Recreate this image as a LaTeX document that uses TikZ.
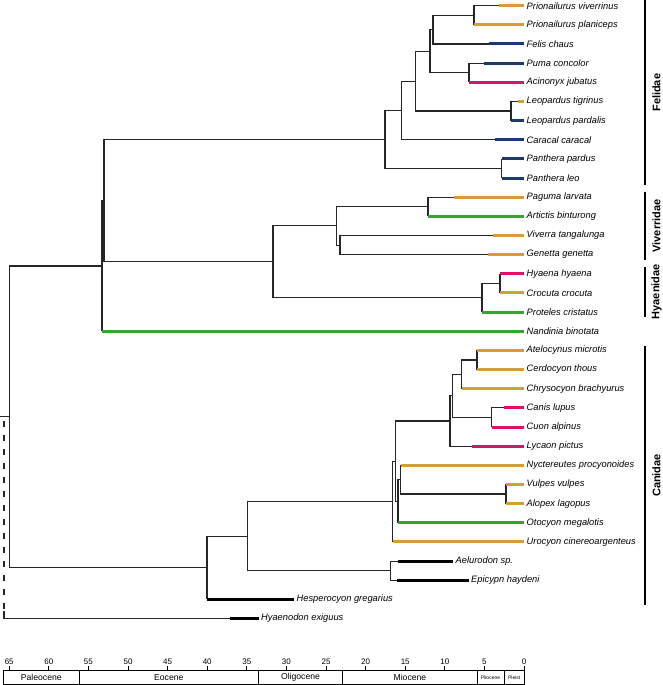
\documentclass[tikz,border=0pt]{standalone}
\usepackage{fontspec}
\setmainfont{Liberation Sans}
\definecolor{cgold}{RGB}{211,157,56}
\definecolor{cnavy}{RGB}{28,57,107}
\definecolor{cmag}{RGB}{214,20,104}
\definecolor{cgrn}{RGB}{58,160,58}
\begin{document}
\begin{tikzpicture}[x=1pt,y=-1pt,
  br/.style={line width=1.1pt, black!85},
  gd/.style={line width=3pt, cgold},
  nv/.style={line width=3pt, cnavy},
  mg/.style={line width=3pt, cmag},
  gr/.style={line width=3pt, cgrn},
  fk/.style={line width=3pt, black},
  tip/.style={anchor=west, inner xsep=2.5pt, inner ysep=0pt, font=\fontsize{9.3}{11}\selectfont\itshape},
  bar/.style={line width=1.3pt, black},
  clade/.style={rotate=90, font=\fontsize{11}{13}\selectfont\bfseries},
  num/.style={font=\fontsize{8}{9}\selectfont, inner sep=0pt},
  epo/.style={font=\fontsize{8.6}{10}\selectfont, inner sep=0pt},
  epos/.style={font=\fontsize{5}{6}\selectfont, inner sep=0pt},
  axl/.style={line width=0.8pt, black}]
\useasboundingbox (0,0) rectangle (663,685);

% internal nodes
\coordinate (nPri) at (474,15.28);
\coordinate (nPF) at (433,29.64);
\coordinate (nPA) at (469,72.73);
\coordinate (nA) at (430,51.18);
\coordinate (nLeo) at (511,111.03);
\coordinate (nB) at (415.5,81.1);
\coordinate (nC) at (401.5,110.4);
\coordinate (nPan) at (501.7,168.48);
\coordinate (nD) at (385,139.45);
\coordinate (nPag) at (428,206.78);
\coordinate (nVG) at (340,245.08);
\coordinate (nViv) at (336.5,225.93);
\coordinate (nHC) at (500,283.38);
\coordinate (nHy) at (482,297.74);
\coordinate (nVH) at (273,261.83);
\coordinate (nF1) at (104,200.64);
\coordinate (nF0) at (102,265.95);
\coordinate (nAC) at (477,359.98);
\coordinate (nSA) at (461.5,374.34);
\coordinate (nCC) at (491.7,417.43);
\coordinate (nWolf) at (452.7,395.88);
\coordinate (nCanini) at (450,421.0);
\coordinate (nVA) at (506,494.03);
\coordinate (nNy) at (400.7,479.66);
\coordinate (nVul) at (398,501.2);
\coordinate (nCV) at (395.7,461.1);
\coordinate (nCan) at (392.7,501.5);
\coordinate (nBor) at (390.7,570.63);
\coordinate (nCB) at (247.8,536.06);
\coordinate (nCf) at (207,567.7);
\coordinate (root) at (9.5,416.83);
\coordinate (rootstem) at (0,416.83);

% internal edges
\draw[br] (nPF) |- (nPri);
\draw[br] (nA) |- (nPF);
\draw[br] (nA) |- (nPA);
\draw[br] (nB) |- (nA);
\draw[br] (nB) |- (nLeo);
\draw[br] (nC) |- (nB);
\draw[br] (nD) |- (nC);
\draw[br] (nD) |- (nPan);
\draw[br] (nF1) |- (nD);
\draw[br] (nViv) |- (nPag);
\draw[br] (nViv) |- (nVG);
\draw[br] (nVH) |- (nViv);
\draw[br] (nHy) |- (nHC);
\draw[br] (nVH) |- (nHy);
\draw[br] (nF1) |- (nVH);
\draw[br] (nF0) |- (nF1);
\draw[br] (root) |- (nF0);
\draw[br] (nSA) |- (nAC);
\draw[br] (nWolf) |- (nSA);
\draw[br] (nWolf) |- (nCC);
\draw[br] (nCanini) |- (nWolf);
\draw[br] (nCV) |- (nCanini);
\draw[br] (nNy) |- (nVA);
\draw[br] (nVul) |- (nNy);
\draw[br] (nCV) |- (nVul);
\draw[br] (nCan) |- (nCV);
\draw[br] (nCB) |- (nCan);
\draw[br] (nCB) |- (nBor);
\draw[br] (nCf) |- (nCB);
\draw[br] (root) |- (nCf);
\draw[br] (rootstem) -- (root);

% tips: label nodes
\node[tip] (t0) at (524,5.7) {Prionailurus viverrinus};
\node[tip] (t1) at (524,24.85) {Prionailurus planiceps};
\node[tip] (t2) at (524,44.0) {Felis chaus};
\node[tip] (t3) at (524,63.15) {Puma concolor};
\node[tip] (t4) at (524,82.3) {Acinonyx jubatus};
\node[tip] (t5) at (524,101.45) {Leopardus tigrinus};
\node[tip] (t6) at (524,120.6) {Leopardus pardalis};
\node[tip] (t7) at (524,139.75) {Caracal caracal};
\node[tip] (t8) at (524,158.9) {Panthera pardus};
\node[tip] (t9) at (524,178.05) {Panthera leo};
\node[tip] (t10) at (524,197.2) {Paguma larvata};
\node[tip] (t11) at (524,216.35) {Artictis binturong};
\node[tip] (t12) at (524,235.5) {Viverra tangalunga};
\node[tip] (t13) at (524,254.65) {Genetta genetta};
\node[tip] (t14) at (524,273.8) {Hyaena hyaena};
\node[tip] (t15) at (524,292.95) {Crocuta crocuta};
\node[tip] (t16) at (524,312.1) {Proteles cristatus};
\node[tip] (t17) at (524,331.25) {Nandinia binotata};
\node[tip] (t18) at (524,350.4) {Atelocynus microtis};
\node[tip] (t19) at (524,369.55) {Cerdocyon thous};
\node[tip] (t20) at (524,388.7) {Chrysocyon brachyurus};
\node[tip] (t21) at (524,407.85) {Canis lupus};
\node[tip] (t22) at (524,427.0) {Cuon alpinus};
\node[tip] (t23) at (524,446.15) {Lycaon pictus};
\node[tip] (t24) at (524,465.3) {Nyctereutes procyonoides};
\node[tip] (t25) at (524,484.45) {Vulpes vulpes};
\node[tip] (t26) at (524,503.6) {Alopex lagopus};
\node[tip] (t27) at (524,522.75) {Otocyon megalotis};
\node[tip] (t28) at (524,541.9) {Urocyon cinereoargenteus};
\node[tip] (t29) at (453,561.05) {Aelurodon sp.};
\node[tip] (t30) at (468.5,580.2) {Epicypn haydeni};
\node[tip] (t31) at (294,599.35) {Hesperocyon gregarius};
\node[tip] (t32) at (258.5,618.5) {Hyaenodon exiguus};

% colour start points
\coordinate (s0) at (499,5.7);
\coordinate (s1) at (474,24.85);
\coordinate (s2) at (489,44.0);
\coordinate (s3) at (484.3,63.15);
\coordinate (s4) at (469,82.3);
\coordinate (s5) at (518,101.45);
\coordinate (s6) at (511,120.6);
\coordinate (s7) at (495,139.75);
\coordinate (s8) at (501.7,158.9);
\coordinate (s9) at (501.7,178.05);
\coordinate (s10) at (454.3,197.2);
\coordinate (s11) at (428,216.35);
\coordinate (s12) at (493.3,235.5);
\coordinate (s13) at (487.7,254.65);
\coordinate (s14) at (500,273.8);
\coordinate (s15) at (500,292.95);
\coordinate (s16) at (482,312.1);
\coordinate (s17) at (102,331.25);
\coordinate (s18) at (477,350.4);
\coordinate (s19) at (477,369.55);
\coordinate (s20) at (461.5,388.7);
\coordinate (s21) at (504,407.85);
\coordinate (s22) at (491.7,427.0);
\coordinate (s23) at (472.3,446.15);
\coordinate (s24) at (400.7,465.3);
\coordinate (s25) at (506,484.45);
\coordinate (s26) at (506,503.6);
\coordinate (s27) at (398,522.75);
\coordinate (s28) at (392.7,541.9);
\coordinate (s29) at (398,561.05);
\coordinate (s30) at (397.3,580.2);
\coordinate (s31) at (207,599.35);
\coordinate (s32) at (230,618.5);

% black stems to colour start
\draw[br] (nPri) |- (s0);
\draw[br] (nPri) |- (s1);
\draw[br] (nPF) |- (s2);
\draw[br] (nPA) |- (s3);
\draw[br] (nPA) |- (s4);
\draw[br] (nLeo) |- (s5);
\draw[br] (nLeo) |- (s6);
\draw[br] (nC) |- (s7);
\draw[br] (nPan) |- (s8);
\draw[br] (nPan) |- (s9);
\draw[br] (nPag) |- (s10);
\draw[br] (nPag) |- (s11);
\draw[br] (nVG) |- (s12);
\draw[br] (nVG) |- (s13);
\draw[br] (nHC) |- (s14);
\draw[br] (nHC) |- (s15);
\draw[br] (nHy) |- (s16);
\draw[br] (nF0) |- (s17);
\draw[br] (nAC) |- (s18);
\draw[br] (nAC) |- (s19);
\draw[br] (nSA) |- (s20);
\draw[br] (nCC) |- (s21);
\draw[br] (nCC) |- (s22);
\draw[br] (nCanini) |- (s23);
\draw[br] (nNy) |- (s24);
\draw[br] (nVA) |- (s25);
\draw[br] (nVA) |- (s26);
\draw[br] (nVul) |- (s27);
\draw[br] (nCan) |- (s28);
\draw[br] (nBor) |- (s29);
\draw[br] (nBor) |- (s30);
\draw[br] (nCf) |- (s31);

% coloured tip segments
\draw[gd] (s0) -- (t0.west);
\draw[gd] (s1) -- (t1.west);
\draw[nv] (s2) -- (t2.west);
\draw[nv] (s3) -- (t3.west);
\draw[mg] (s4) -- (t4.west);
\draw[gd] (s5) -- (t5.west);
\draw[nv] (s6) -- (t6.west);
\draw[nv] (s7) -- (t7.west);
\draw[nv] (s8) -- (t8.west);
\draw[nv] (s9) -- (t9.west);
\draw[gd] (s10) -- (t10.west);
\draw[gr] (s11) -- (t11.west);
\draw[gd] (s12) -- (t12.west);
\draw[gd] (s13) -- (t13.west);
\draw[mg] (s14) -- (t14.west);
\draw[gd] (s15) -- (t15.west);
\draw[gr] (s16) -- (t16.west);
\draw[gr] (s17) -- (t17.west);
\draw[gd] (s18) -- (t18.west);
\draw[gd] (s19) -- (t19.west);
\draw[gd] (s20) -- (t20.west);
\draw[mg] (s21) -- (t21.west);
\draw[mg] (s22) -- (t22.west);
\draw[mg] (s23) -- (t23.west);
\draw[gd] (s24) -- (t24.west);
\draw[gd] (s25) -- (t25.west);
\draw[gd] (s26) -- (t26.west);
\draw[gr] (s27) -- (t27.west);
\draw[gd] (s28) -- (t28.west);
\draw[fk] (s29) -- (t29.west);
\draw[fk] (s30) -- (t30.west);
\draw[fk] (s31) -- (t31.west);
\draw[fk] (s32) -- (t32.west);

% Hyaenodon outgroup
\coordinate (hyt) at (4,421);
\coordinate (hyd) at (4,611);
\coordinate (hyc) at (4,618.5);
\draw[br, dashed, dash pattern=on 6pt off 8pt] (hyt) -- (hyd);
\draw[br] (hyd) -- (hyc) -- (s32);

% clade bars
\coordinate (f1) at (645,0.5); \coordinate (f2) at (645,185);
\coordinate (v1) at (645,191.7); \coordinate (v2) at (645,260);
\coordinate (h1) at (645,266.7); \coordinate (h2) at (645,316.7);
\coordinate (c1) at (645,346); \coordinate (c2) at (645,605);
\draw[bar] (f1) -- (f2);
\draw[bar] (v1) -- (v2);
\draw[bar] (h1) -- (h2);
\draw[bar] (c1) -- (c2);
\node[clade] (lFel) at (656.5,92.75) {Felidae};
\node[clade] (lViv) at (656.5,225.85) {Viverridae};
\node[clade] (lHya) at (656.5,291.7) {Hyaenidae};
\node[clade] (lCan) at (656.5,475.5) {Canidae};

% time axis
\foreach \m in {0,5,...,65} {
  \coordinate (tk\m) at ({524-7.92*\m},670.7);
  \draw[axl] (tk\m) -- ++(0,-4.7);
  \node[num] (tn\m) at ({524-7.92*\m},661.5) {\m};
}
\coordinate (bx1) at (3.3,670.7);
\coordinate (bx2) at (524.5,684);
\draw[axl] (bx1) rectangle (bx2);
\foreach \b in {79.3,258.3,342.7,477,504} {
  \draw[axl] (\b,670.7) -- (\b,684);
}
\node[epo] (ePal) at (41.3,677.6) {Paleocene};
\node[epo] (eEoc) at (168.8,677.6) {Eocene};
\node[epo] (eOli) at (300.5,677.6) {Oligocene};
\node[epo] (eMio) at (409.9,677.6) {Miocene};
\node[epos] (ePli) at (490.5,677.6) {Pliocene};
\node[epos] (ePle) at (514.2,677.6) {Pleist};
\end{tikzpicture}
\end{document}
